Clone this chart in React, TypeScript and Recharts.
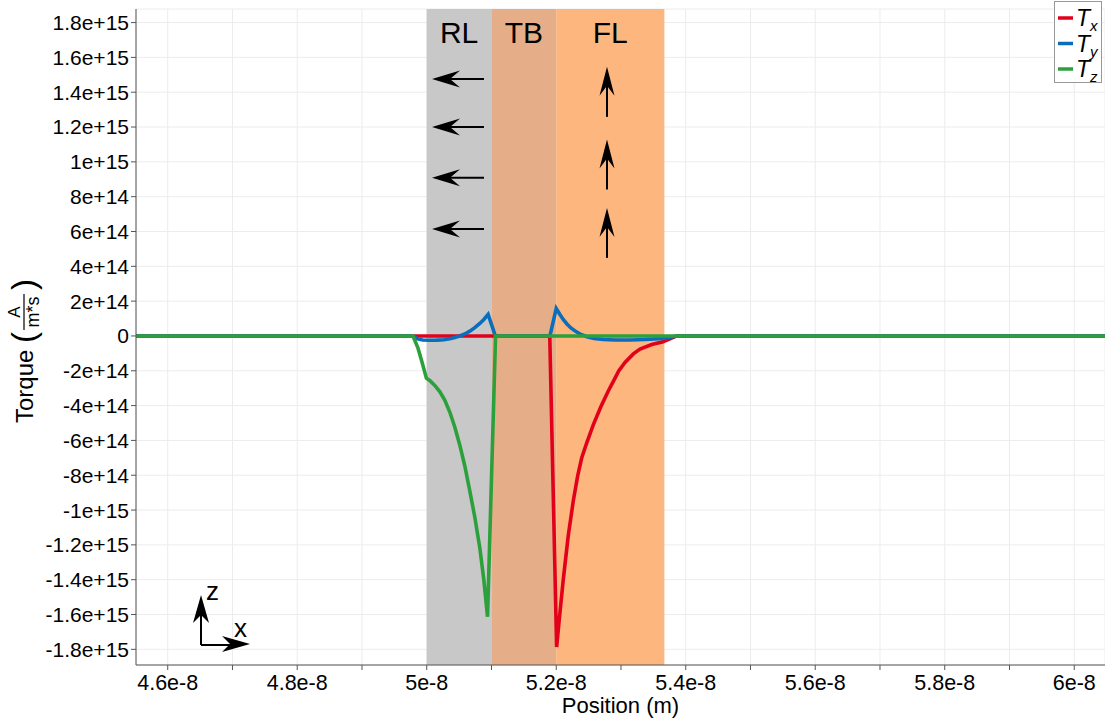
import * as React from 'react'
import {
  LineChart,
  Line,
  XAxis,
  YAxis,
  CartesianGrid,
  ReferenceArea,
  ReferenceDot,
} from 'recharts'

const FONT = '"Liberation Sans", Arial, Helvetica, sans-serif'

// positions in m, torques in A/(m*s)
const txPos = [
  4.551e-8, 5.19e-8, 5.2006e-8, 5.2052e-8, 5.2108e-8, 5.2185e-8, 5.2263e-8, 5.2331e-8, 5.2393e-8,
  5.247e-8, 5.2572e-8, 5.2687e-8, 5.2804e-8, 5.2882e-8, 5.2965e-8, 5.3062e-8, 5.3191e-8, 5.3294e-8,
  5.3475e-8, 5.365e-8, 5.3862e-8, 6.0475e-8,
]
const txVal = [
  0, 0, -1.787e15, -1.609e15, -1.402e15, -1.149e15, -9.48e14, -8.04e14, -7.01e14,
  -6.15e14, -5.11e14, -4.08e14, -3.16e14, -2.61e14, -2.01e14, -1.52e14, -1.03e14, -7.5e13,
  -4.9e13, -3.4e13, 0, 0,
]

const tyPos = [
  4.551e-8, 4.9788e-8, 4.9861e-8, 4.9938e-8, 5.0046e-8, 5.0155e-8, 5.0263e-8, 5.0356e-8, 5.0433e-8,
  5.051e-8, 5.0588e-8, 5.0665e-8, 5.0742e-8, 5.082e-8, 5.0882e-8, 5.0948e-8, 5.106e-8,
  5.1903e-8, 5.2e-8, 5.2057e-8, 5.2108e-8, 5.2165e-8, 5.2227e-8, 5.2305e-8, 5.2382e-8, 5.2475e-8,
  5.2583e-8, 5.2722e-8, 5.2908e-8, 5.314e-8, 5.3372e-8, 5.3655e-8, 5.3862e-8, 6.0475e-8,
]
const tyVal = [
  0, 0, -1.7e13, -2.3e13, -2.5e13, -2.4e13, -2.2e13, -1.6e13, -8.6e12,
  0, 1.15e13, 2.76e13, 4.77e13, 7.18e13, 9.48e13, 1.235e14, 0,
  0, 1.58e14, 1.235e14, 9.5e13, 6.9e13, 4.6e13, 2.5e13, 8.6e12, -4.6e12,
  -1.44e13, -2.0e13, -2.3e13, -2.3e13, -2.07e13, -1.44e13, 0, 0,
]

const tzPos = [
  4.551e-8, 4.9788e-8, 4.9865e-8, 4.9918e-8, 4.9995e-8, 5.0046e-8, 5.0124e-8, 5.0201e-8, 5.0278e-8,
  5.0356e-8, 5.0433e-8, 5.051e-8, 5.0588e-8, 5.0665e-8, 5.0742e-8, 5.082e-8, 5.0882e-8, 5.0939e-8,
  5.1063e-8, 6.0475e-8,
]
const tzVal = [
  0, 0, -7.0e13, -1.38e14, -2.43e14, -2.56e14, -2.84e14, -3.19e14, -3.68e14,
  -4.37e14, -5.23e14, -6.26e14, -7.47e14, -8.9e14, -1.04e15, -1.218e15, -1.402e15, -1.613e15,
  0, 0,
]

const xTicks = [4.6e-8, 4.7e-8, 4.8e-8, 4.9e-8, 5e-8, 5.1e-8, 5.2e-8, 5.3e-8, 5.4e-8, 5.5e-8, 5.6e-8, 5.7e-8, 5.8e-8, 5.9e-8, 6e-8]
const xLabeled = [4.6e-8, 4.8e-8, 5e-8, 5.2e-8, 5.4e-8, 5.6e-8, 5.8e-8, 6e-8]
const yTicks = [
  -1.8e15, -1.6e15, -1.4e15, -1.2e15, -1e15, -8e14, -6e14, -4e14, -2e14, 0,
  2e14, 4e14, 6e14, 8e14, 1e15, 1.2e15, 1.4e15, 1.6e15, 1.8e15,
]

const regionNames = ['RL', 'TB', 'FL']
const regionStart = [5e-8, 5.1e-8, 5.2e-8]
const regionEnd = [5.1e-8, 5.2e-8, 5.367e-8]
const regionColors = ['#c8c8c8', '#e6ae88', '#fdb67e']

// magnetisation arrows drawn inside the layers
const leftArrowX = 5.0483e-8
const leftArrowY = [1.476e15, 1.2e15, 9.08e14, 6.15e14]
const upArrowX = 5.2784e-8
const upArrowY = [1.402e15, 9.85e14, 5.92e14]

const toPoints = (xs: number[], ys: number[]) => xs.map((x, i) => ({ x, y: ys[i] }))
const txData = toPoints(txPos, txVal)
const tyData = toPoints(tyPos, tyVal)
const tzData = toPoints(tzPos, tzVal)

const fmtX = (v: number) => (xLabeled.includes(v) ? v.toExponential() : '')
const fmtY = (v: number) => (v === 0 ? '0' : v.toExponential())

function LeftArrow({ cx, cy }: { cx: number; cy: number }) {
  const tip = cx - 26
  return (
    <g>
      <line x1={cx + 26} y1={cy} x2={tip + 14} y2={cy} stroke="#000" strokeWidth={2} />
      <path d={`M${tip},${cy} L${tip + 28},${cy - 8.5} L${tip + 18},${cy} L${tip + 28},${cy + 8.5} Z`} fill="#000" />
    </g>
  )
}

function UpArrow({ cx, cy }: { cx: number; cy: number }) {
  const tip = cy - 25
  return (
    <g>
      <line x1={cx} y1={cy + 25} x2={cx} y2={tip + 14} stroke="#000" strokeWidth={2} />
      <path d={`M${cx},${tip} L${cx - 7.5},${tip + 29} L${cx},${tip + 19} L${cx + 7.5},${tip + 29} Z`} fill="#000" />
    </g>
  )
}

function AxesGlyph({ cx, cy }: { cx: number; cy: number }) {
  return (
    <g>
      <line x1={cx} y1={cy} x2={cx} y2={cy - 36} stroke="#000" strokeWidth={2} />
      <path d={`M${cx},${cy - 50} L${cx - 8},${cy - 22} L${cx},${cy - 30} L${cx + 8},${cy - 22} Z`} fill="#000" />
      <line x1={cx} y1={cy} x2={cx + 36} y2={cy} stroke="#000" strokeWidth={2} />
      <path d={`M${cx + 49},${cy - 1} L${cx + 21},${cy - 9} L${cx + 29},${cy - 1} L${cx + 21},${cy + 7} Z`} fill="#000" />
      <text x={cx + 5} y={cy - 45} fontSize={26} fontFamily={FONT} fill="#000">z</text>
      <text x={cx + 33} y={cy - 8} fontSize={26} fontFamily={FONT} fill="#000">x</text>
    </g>
  )
}

function TorqueLabel(props: any) {
  const vb = props.viewBox || { x: 0, y: 9, width: 136, height: 656 }
  const cy = vb.y + vb.height / 2 + 4
  return (
    <g transform={`translate(25,${cy}) rotate(-90)`} fontFamily={FONT} fill="#000">
      <text x={-82} y={8} fontSize={24}>Torque</text>
      <text x={-2} y={10} fontSize={33}>(</text>
      <text x={29} y={-5} fontSize={17} textAnchor="middle">A</text>
      <line x1={11} y1={-1} x2={47} y2={-1} stroke="#000" strokeWidth={1.2} />
      <text x={29} y={14} fontSize={18} textAnchor="middle">m*s</text>
      <text x={51} y={10} fontSize={33}>)</text>
    </g>
  )
}

const seriesNames = ['x', 'y', 'z']
const seriesColors = ['#e2001a', '#0a6ebd', '#2ca03a']

function TorqueLegend() {
  return (
    <svg width={49} height={83} style={{ position: 'absolute', left: 1054, top: 1 }}>
      <rect x={0.5} y={0.5} width={47} height={81} fill="#fff" stroke="#999" />
      {seriesNames.map((n, i) => (
        <g key={n}>
          <line x1={4} y1={17 + i * 25.5} x2={19} y2={17 + i * 25.5} stroke={seriesColors[i]} strokeWidth={3.5} />
          <text x={22} y={25 + i * 25.5} fontSize={23} fontStyle="italic" fontFamily={FONT} fill="#000">
            T<tspan dy={5} fontSize={15}>{n}</tspan>
          </text>
        </g>
      ))}
    </svg>
  )
}

export default function App() {
  return (
    <div style={{ position: 'absolute', left: 0, top: 0, width: 1105, height: 725, background: '#fff', fontFamily: FONT }}>
      <LineChart width={1105} height={725} margin={{ top: 9, right: 0, bottom: 0, left: 0 }}>
        <CartesianGrid stroke="#ececec" strokeWidth={1} />
        {regionNames.map((name, i) => (
          <ReferenceArea
            key={name}
            x1={regionStart[i]}
            x2={regionEnd[i]}
            fill={regionColors[i]}
            fillOpacity={1}
            stroke="none"
            label={{ value: name, position: 'insideTop', offset: 13, fontSize: 30, fill: '#000', fontFamily: FONT }}
          />
        ))}
        <XAxis
          type="number"
          dataKey="x"
          domain={[4.551e-8, 6.0475e-8]}
          allowDataOverflow
          ticks={xTicks}
          interval={0}
          tickFormatter={fmtX}
          tickSize={5}
          tickMargin={5}
          height={60}
          stroke="#555"
          tick={{ fill: '#000', fontSize: 21.5, fontFamily: FONT }}
          label={{ value: 'Position (m)', position: 'insideBottom', offset: 12, fontSize: 22, fill: '#000', fontFamily: FONT }}
        />
        <YAxis
          type="number"
          domain={[-1.89e15, 1.878e15]}
          allowDataOverflow
          ticks={yTicks}
          interval={0}
          tickFormatter={fmtY}
          tickSize={5}
          tickMargin={2}
          width={136}
          stroke="#555"
          tick={{ fill: '#000', fontSize: 21, fontFamily: FONT }}
          label={{ content: TorqueLabel }}
        />
        <Line data={txData} dataKey="y" type="linear" stroke={seriesColors[0]} strokeWidth={3.6} dot={false} isAnimationActive={false} />
        <Line data={tyData} dataKey="y" type="linear" stroke={seriesColors[1]} strokeWidth={3.6} dot={false} isAnimationActive={false} />
        <Line data={tzData} dataKey="y" type="linear" stroke={seriesColors[2]} strokeWidth={3.6} dot={false} isAnimationActive={false} />
        {leftArrowY.map((y) => (
          <ReferenceDot key={'l' + y} x={leftArrowX} y={y} shape={(p: any) => <LeftArrow cx={p.cx} cy={p.cy} />} />
        ))}
        {upArrowY.map((y) => (
          <ReferenceDot key={'u' + y} x={upArrowX} y={y} shape={(p: any) => <UpArrow cx={p.cx} cy={p.cy} />} />
        ))}
        <ReferenceDot x={4.6514e-8} y={-1.775e15} shape={(p: any) => <AxesGlyph cx={p.cx} cy={p.cy} />} />
      </LineChart>
      <TorqueLegend />
    </div>
  )
}
